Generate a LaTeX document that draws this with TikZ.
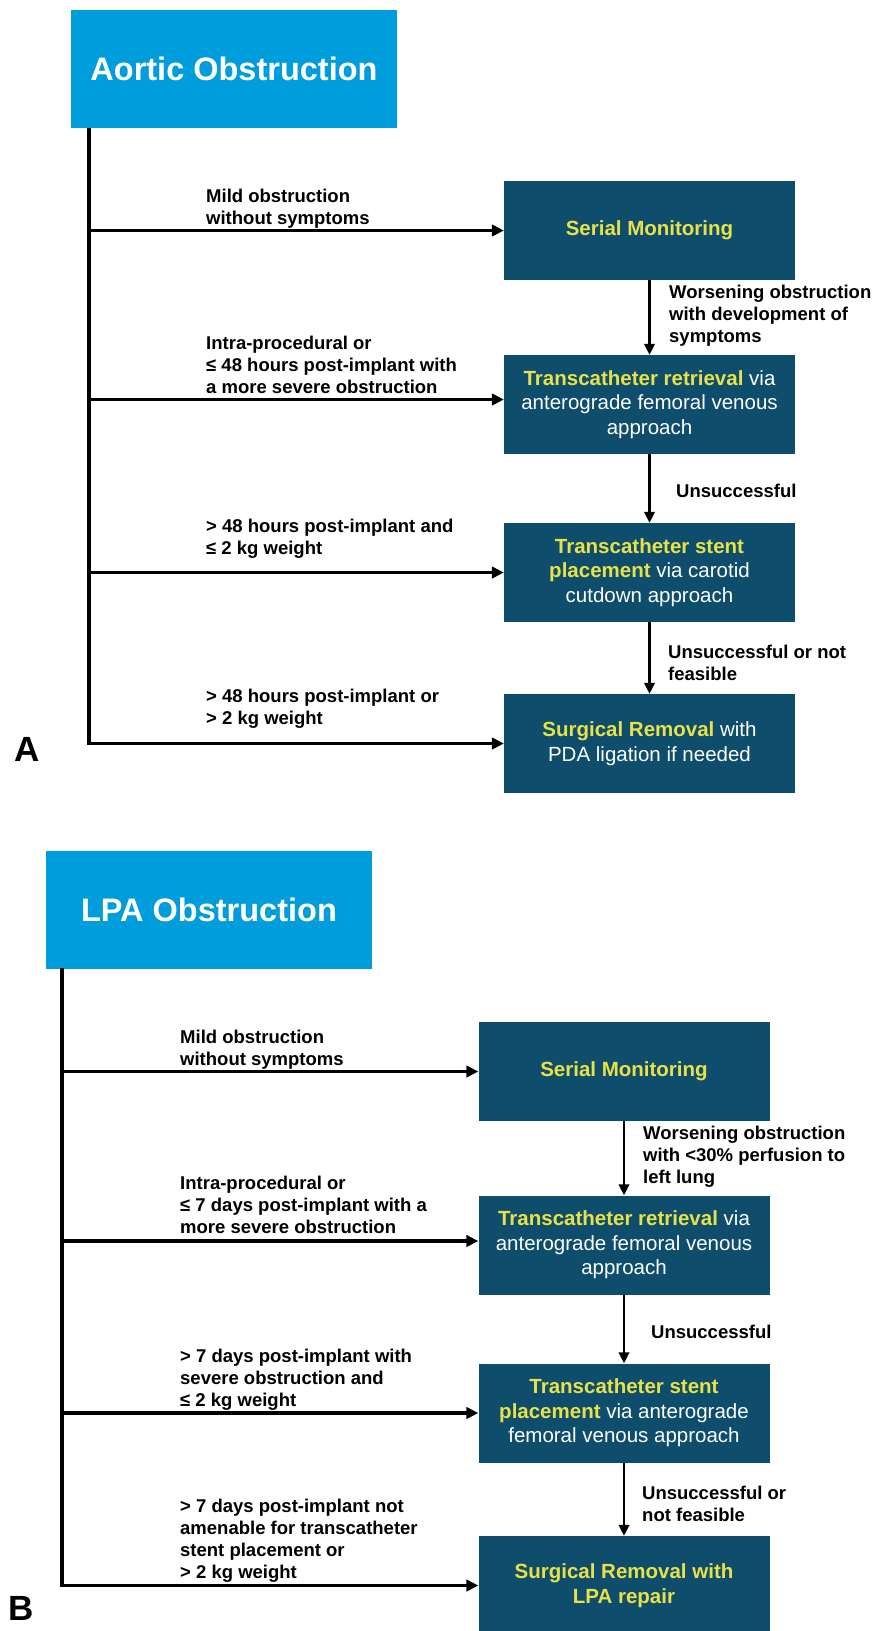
\documentclass[tikz,border=0pt]{standalone}
\usepackage{fontspec}
\setmainfont{Liberation Sans}
\usetikzlibrary{arrows.meta}

\definecolor{headblue}{RGB}{0,157,220}
\definecolor{boxteal}{RGB}{14,77,107}
\definecolor{termyellow}{RGB}{232,226,72}
\newcommand{\term}[1]{{\bfseries\color{termyellow}#1}}

\begin{document}
\begin{tikzpicture}[x=1pt,y=-1pt,
  headbox/.style={fill=headblue,text=white,inner sep=0pt,minimum width=326pt,minimum height=118pt,font=\fontsize{32.5}{38}\selectfont\bfseries},
  carebox/.style={fill=boxteal,text=white,inner sep=0pt,align=center,minimum width=291pt,minimum height=99pt,font=\fontsize{20.5}{24.5}\selectfont},
  cond/.style={anchor=south west,inner sep=0pt,align=left,font=\fontsize{18.5}{22}\selectfont\bfseries},
  result/.style={anchor=north west,inner sep=0pt,align=left,font=\fontsize{18.5}{22}\selectfont\bfseries},
  branch/.style={line width=3.3pt,-{Triangle[length=12pt,width=11.5pt]}},
  down/.style={line width=2.3pt,-{Triangle[length=11pt,width=10.5pt]}},
  panel/.style={font=\fontsize{35}{40}\selectfont\bfseries}]
  \useasboundingbox[fill=white] (0,0) rectangle (887,1631);

  \node[headbox] (aTitle) at (234,68.5) {Aortic Obstruction};
  \coordinate (aTrunk) at (89,128);

  \node[carebox] (aSerial) at (649.5,230.5) {\term{Serial Monitoring}};
  \node[carebox] (aRetrieval) at (649.5,404.5) {\term{Transcatheter retrieval} via\\anterograde femoral venous\\approach};
  \node[carebox] (aStent) at (649.5,572.5) {\term{Transcatheter stent}\\\term{placement} via carotid\\cutdown approach};
  \node[carebox] (aSurgical) at (649.5,743.5) {\term{Surgical Removal} with\\PDA ligation if needed};
  \coordinate (aRetrievalIn) at ([yshift=5pt]aRetrieval.west);

  \node[cond] (aMild) at (206,231) {Mild obstruction\\without symptoms\strut};
  \node[cond] (aEarly) at (206,400) {Intra-procedural or\\≤ 48 hours post-implant with\\a more severe obstruction\strut};
  \node[cond] (aSmall) at (206,561) {> 48 hours post-implant and\\≤ 2 kg weight\strut};
  \node[cond] (aLarge) at (206,731.5) {> 48 hours post-implant or\\> 2 kg weight\strut};

  \node[result] (aWorse) at (669,283) {\strut Worsening obstruction\\with development of\\symptoms};
  \node[result] (aFail) at (676,482) {\strut Unsuccessful};
  \node[result] (aFailTwo) at (668,643) {\strut Unsuccessful or not\\feasible};

  \node[panel] (aLetter) at (27,749) {A};

  \draw[branch] (aTrunk) -- (aTrunk |- aSurgical.west) -- (aSurgical.west);
  \draw[branch] (aTrunk |- aSerial.west) -- (aSerial.west);
  \draw[branch] (aTrunk |- aRetrievalIn) -- (aRetrievalIn);
  \draw[branch] (aTrunk |- aStent.west) -- (aStent.west);
  \draw[down] (aSerial) -- (aRetrieval);
  \draw[down] (aRetrieval) -- (aStent);
  \draw[down] (aStent) -- (aSurgical);

  \node[headbox] (bTitle) at (209,909.5) {LPA Obstruction};
  \coordinate (bTrunk) at (62,968);

  \node[carebox] (bSerial) at (624,1071.5) {\term{Serial Monitoring}};
  \node[carebox] (bRetrieval) at (624,1245) {\term{Transcatheter retrieval} via\\anterograde femoral venous\\approach};
  \node[carebox] (bStent) at (624,1413) {\term{Transcatheter stent}\\\term{placement} via anterograde\\femoral venous approach};
  \node[carebox] (bSurgical) at (624,1585.5) {\term{Surgical Removal with}\\\term{LPA repair}};
  \coordinate (bRetrievalIn) at ([yshift=4pt]bRetrieval.west);

  \node[cond] (bMild) at (180,1072) {Mild obstruction\\without symptoms\strut};
  \node[cond] (bEarly) at (180,1240) {Intra-procedural or\\≤ 7 days post-implant with a\\more severe obstruction\strut};
  \node[cond] (bSmall) at (180,1413) {> 7 days post-implant with\\severe obstruction and\\≤ 2 kg weight\strut};
  \node[cond] (bLarge) at (180,1585) {> 7 days post-implant not\\amenable for transcatheter\\stent placement or\\> 2 kg weight\strut};

  \node[result] (bWorse) at (643,1124) {\strut Worsening obstruction\\with <30\% perfusion to\\left lung};
  \node[result] (bFail) at (651,1323) {\strut Unsuccessful};
  \node[result] (bFailTwo) at (642,1484) {\strut Unsuccessful or\\not feasible};

  \node[panel] (bLetter) at (21.5,1608.5) {B};

  \draw[branch] (bTrunk) -- (bTrunk |- bSurgical.west) -- (bSurgical.west);
  \draw[branch] (bTrunk |- bSerial.west) -- (bSerial.west);
  \draw[branch] (bTrunk |- bRetrievalIn) -- (bRetrievalIn);
  \draw[branch] (bTrunk |- bStent.west) -- (bStent.west);
  \draw[down] (bSerial) -- (bRetrieval);
  \draw[down] (bRetrieval) -- (bStent);
  \draw[down] (bStent) -- (bSurgical);
\end{tikzpicture}
\end{document}
